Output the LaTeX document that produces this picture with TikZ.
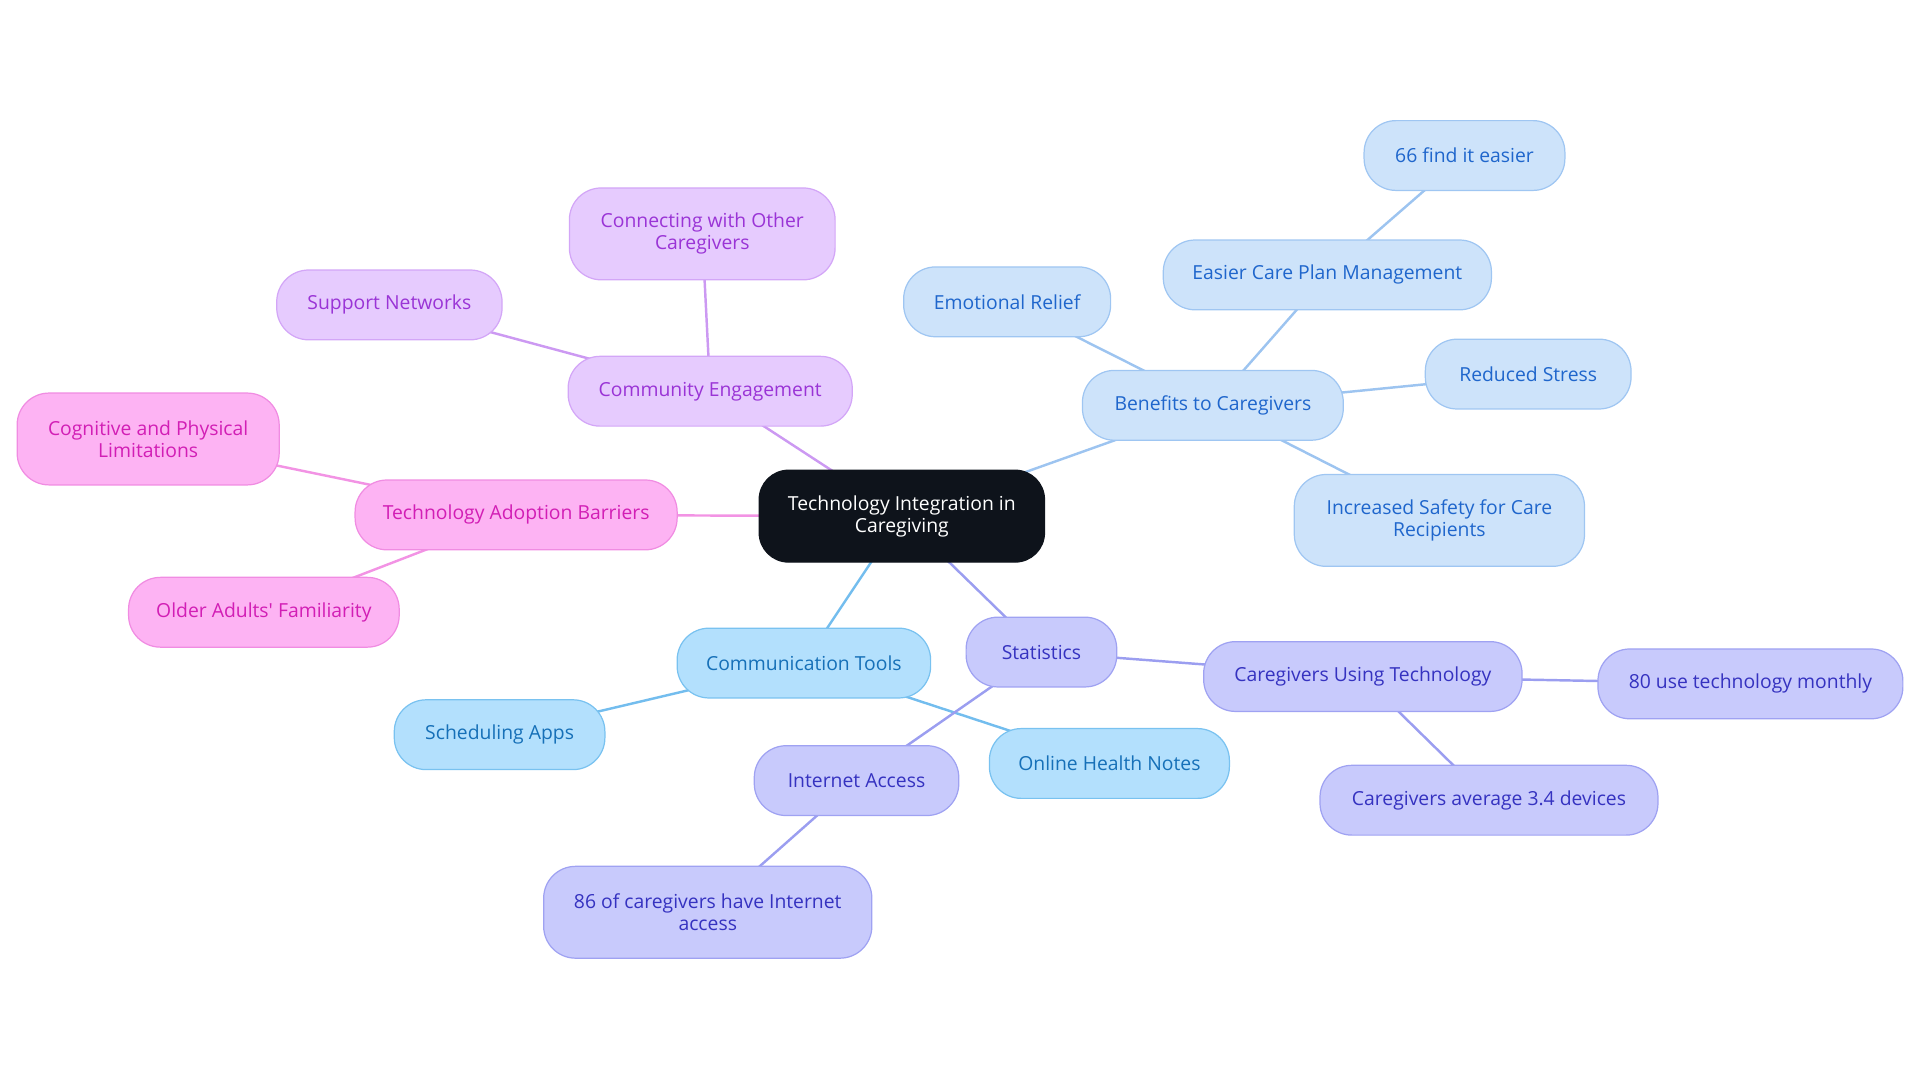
\documentclass[tikz,border=0pt]{standalone}
\usepackage{fontspec}
\setmainfont{Open Sans}[Ligatures=TeXOff]
\usetikzlibrary{backgrounds}
\definecolor{cenfill}{HTML}{0E131B}
\definecolor{pufill}{HTML}{E6CBFE}\definecolor{pudraw}{HTML}{D3A6F7}\definecolor{putext}{HTML}{9A34D6}\definecolor{puedge}{HTML}{CC99F2}
\definecolor{pkfill}{HTML}{FDB3F3}\definecolor{pkdraw}{HTML}{F08CE2}\definecolor{pktext}{HTML}{D21EB5}\definecolor{pkedge}{HTML}{F293E4}
\definecolor{bffill}{HTML}{CDE3FA}\definecolor{bfdraw}{HTML}{9FC6F2}\definecolor{bftext}{HTML}{1F66CC}\definecolor{bfedge}{HTML}{9DC4F0}
\definecolor{ctfill}{HTML}{B3E0FD}\definecolor{ctdraw}{HTML}{79C2F0}\definecolor{cttext}{HTML}{1670B8}\definecolor{ctedge}{HTML}{73BDEE}
\definecolor{stfill}{HTML}{C8CAFC}\definecolor{stdraw}{HTML}{9FA2F2}\definecolor{sttext}{HTML}{3532C0}\definecolor{stedge}{HTML}{9B9EF0}
\tikzset{
  box/.style={rectangle, rounded corners=26pt, inner sep=0pt, align=center, line width=1pt,
    font=\fontsize{15.8}{18}\selectfont, minimum height=57pt},
  tall/.style={minimum height=75pt},
  cen/.style={box, fill=cenfill, draw=cenfill, text=white, rounded corners=24pt},
  pu/.style={box, fill=pufill, draw=pudraw, text=putext},
  pk/.style={box, fill=pkfill, draw=pkdraw, text=pktext},
  bf/.style={box, fill=bffill, draw=bfdraw, text=bftext},
  ct/.style={box, fill=ctfill, draw=ctdraw, text=cttext},
  st/.style={box, fill=stfill, draw=stdraw, text=sttext},
  ed/.style={line width=2pt},
}
\begin{document}
\begin{tikzpicture}[x=1pt,y=-1pt]
\useasboundingbox (0,0) rectangle (1568,884);
\node[cen, tall, minimum width=233pt] (c) at (736.5,421.5) {Technology Integration in\\Caregiving};
% benefits
\node[bf, minimum width=213pt] (b) at (990.5,331) {Benefits to Caregivers};
\node[bf, minimum width=169pt] (b1) at (822.5,246.5) {Emotional Relief};
\node[bf, minimum width=268pt] (b2) at (1084,224.5) {Easier Care Plan Management};
\node[bf, minimum width=164pt] (b3) at (1196,127) {66 find it easier};
\node[bf, minimum width=168pt] (b4) at (1248,305.5) {Reduced Stress};
\node[bf, tall, minimum width=237pt] (b5) at (1175.5,425) {Increased Safety for Care\\Recipients};
% community
\node[pu, minimum width=232pt] (p) at (580,319.5) {Community Engagement};
\node[pu, tall, minimum width=217pt] (p1) at (573.5,191) {Connecting with Other\\Caregivers};
\node[pu, minimum width=184pt] (p2) at (318,249) {Support Networks};
% barriers
\node[pk, minimum width=263pt] (k) at (421.5,420.5) {Technology Adoption Barriers};
\node[pk, tall, minimum width=214pt] (k1) at (121,358.5) {Cognitive and Physical\\Limitations};
\node[pk, minimum width=221pt] (k2) at (215.5,500) {Older Adults' Familiarity};
% communication
\node[ct, minimum width=207pt] (t) at (656.5,541.5) {Communication Tools};
\node[ct, minimum width=172pt] (t1) at (408,600) {Scheduling Apps};
\node[ct, minimum width=196pt] (t2) at (906,623.5) {Online Health Notes};
% statistics
\node[st, minimum width=123pt] (s) at (850.5,532.5) {Statistics};
\node[st, minimum width=260pt] (s1) at (1113,552.5) {Caregivers Using Technology};
\node[st, minimum width=249pt] (s2) at (1429.5,558.5) {80 use technology monthly};
\node[st, minimum width=276pt] (s3) at (1216,653.5) {Caregivers average 3.4 devices};
\node[st, minimum width=167pt] (s4) at (699.5,637.5) {Internet Access};
\node[st, tall, minimum width=268pt] (s5) at (578,745) {86 of caregivers have Internet\\access};
\begin{pgfonlayer}{background}
\draw[ed, bfedge] (c.center) -- (b.center);
\draw[ed, bfedge] (b.center) -- (b1.center);
\draw[ed, bfedge] (b.center) -- (b2.center);
\draw[ed, bfedge] (b2.center) -- (b3.center);
\draw[ed, bfedge] (b.center) -- (b4.center);
\draw[ed, bfedge] (b.center) -- (b5.center);
\draw[ed, puedge] (c.center) -- (p.center);
\draw[ed, puedge] (p.center) -- (p1.center);
\draw[ed, puedge] (p.center) -- (p2.center);
\draw[ed, pkedge] (c.center) -- (k.center);
\draw[ed, pkedge] (k.center) -- (k1.center);
\draw[ed, pkedge] (k.center) -- (k2.center);
\draw[ed, ctedge] (c.center) -- (t.center);
\draw[ed, ctedge] (t.center) -- (t1.center);
\draw[ed, ctedge] (t.center) -- (t2.center);
\draw[ed, stedge] (c.center) -- (s.center);
\draw[ed, stedge] (s.center) -- (s1.center);
\draw[ed, stedge] (s1.center) -- (s2.center);
\draw[ed, stedge] (s1.center) -- (s3.center);
\draw[ed, stedge] (s.center) -- (s4.center);
\draw[ed, stedge] (s4.center) -- (s5.center);
\end{pgfonlayer}
\end{tikzpicture}
\end{document}
